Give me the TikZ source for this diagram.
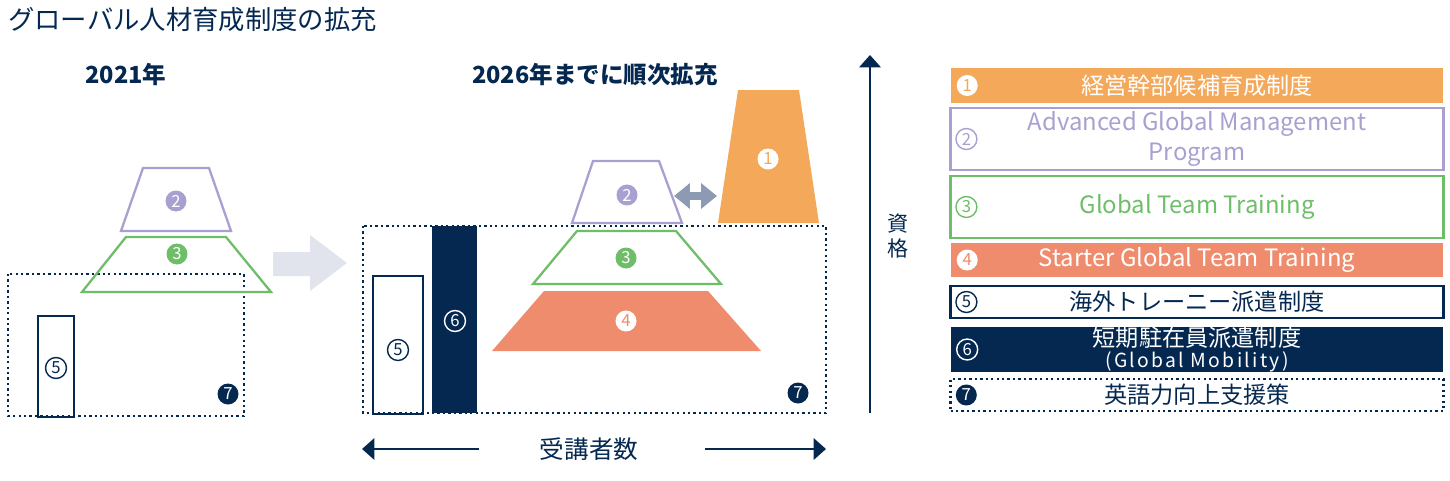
\documentclass[tikz,border=0pt]{standalone}
\usepackage{fontspec}
\setmainfont{Noto Sans CJK JP}
\usetikzlibrary{arrows.meta}
\definecolor{navy}{RGB}{4,40,80}
\definecolor{gold}{RGB}{244,169,90}
\definecolor{lilac}{RGB}{168,160,208}
\definecolor{leaf}{RGB}{110,190,105}
\definecolor{coral}{RGB}{239,140,110}
\definecolor{mist}{RGB}{225,228,236}
\definecolor{slate}{RGB}{140,154,180}
\begin{document}
\begin{tikzpicture}[x=0.02cm,y=-0.02cm,
  badge/.style={circle,inner sep=0pt,minimum size=0.42cm,font=\fontsize{9.5}{10}\selectfont},
  solidbadge/.style={badge,fill=#1,text=white},
  holebadge/.style={badge,fill=white,text=#1},
  ringbadge/.style={badge,draw=#1,line width=0.8pt,text=#1},
  dots/.style={draw=navy,line width=1.4pt,dash pattern=on 1.3pt off 1.8pt},
  row/.style={minimum width=9.86cm,inner sep=0pt,align=center},
  jp/.style={font=\fontsize{13.2}{15}\selectfont},
  en/.style={font=\fontsize{13.6}{17}\selectfont},
  axis/.style={navy,line width=1.6pt,-{Triangle[length=7pt,width=12pt]}}]
  \useasboundingbox (0,0) rectangle (1450,480);

  \node[anchor=west,text=navy,font=\fontsize{15}{18}\selectfont] (title) at (2,20) {グローバル人材育成制度の拡充};
  \node[text=navy,font=\bfseries\fontsize{13.4}{16}\selectfont] (y2021) at (126,75) {2021年};
  \node[text=navy,font=\bfseries\fontsize{13.4}{16}\selectfont] (y2026) at (595,75) {2026年までに順次拡充};

  % 2021
  \draw[dots] (8,274) rectangle (244,416);
  \draw[navy,line width=1.3pt] (38,316) rectangle (74,417);
  \draw[lilac,line width=1.3pt] (143,168) -- (209,168) -- (231,231) -- (121,231) -- cycle;
  \draw[leaf,line width=1.3pt] (126,237) -- (226,237) -- (271,292) -- (82,292) -- cycle;
  \node[solidbadge=lilac] (a2) at (176,201) {2};
  \node[solidbadge=leaf] (a3) at (177,254) {3};
  \node[ringbadge=navy] (a5) at (56,368) {5};
  \node[solidbadge=navy] (a7) at (228,394) {7};

  \fill[mist] (273,252) -- (310,252) -- (310,235) -- (347,263) -- (310,291) -- (310,276) -- (273,276) -- cycle;

  % 2026
  \draw[dots] (363,226) rectangle (826,413);
  \draw[navy,line width=1.3pt] (373,276) rectangle (423,414);
  \fill[navy] (432,226) rectangle (477,413);
  \draw[lilac,line width=1.3pt] (593,161) -- (659,161) -- (682,223) -- (572,223) -- cycle;
  \draw[leaf,line width=1.3pt] (577,231) -- (676,231) -- (721,284) -- (533,284) -- cycle;
  \fill[coral] (544,291) -- (708,291) -- (761,351) -- (492,351) -- cycle;
  \fill[gold] (738,90) -- (799,90) -- (819,223) -- (718,223) -- cycle;
  \coordinate (swapl) at (674,196);
  \coordinate (swapr) at (717,196);
  \draw[slate,line width=5pt,{Triangle[length=9pt,width=14pt]}-{Triangle[length=9pt,width=14pt]}] (swapl) -- (swapr);
  \node[holebadge=gold] (b1) at (768,159) {1};
  \node[solidbadge=lilac] (b2) at (627,195) {2};
  \node[solidbadge=leaf] (b3) at (626,258) {3};
  \node[holebadge=coral] (b4) at (626,321) {4};
  \node[ringbadge=navy] (b5) at (398,350) {5};
  \node[ringbadge=white] (b6) at (455,321) {6};
  \node[solidbadge=navy] (b7) at (798,393) {7};

  % axes
  \node[text=navy,font=\fontsize{14}{16}\selectfont] (count) at (589,449) {受講者数};
  \coordinate (cl0) at (479,449);
  \coordinate (cl1) at (362,449);
  \coordinate (cr0) at (705,449);
  \coordinate (cr1) at (826,449);
  \draw[axis] (cl0) -- (cl1);
  \draw[axis] (cr0) -- (cr1);
  \coordinate (q0) at (870,413);
  \coordinate (q1) at (870,55);
  \draw[axis] (q0) -- (q1);
  \node[text=navy,font=\fontsize{12}{14}\selectfont,align=center] (qual) at (898,236) {資\\格};

  % legend
  \node[row,fill=gold,minimum height=0.70cm,jp,text=white] (r1) at (1197,85.5) {経営幹部候補育成制度};
  \node[row,draw=lilac,line width=1.3pt,minimum height=1.24cm,en,text=lilac] (r2) at (1197,139) {Advanced Global Management\\Program};
  \node[row,draw=leaf,line width=1.3pt,minimum height=1.24cm,en,text=leaf] (r3) at (1197,207) {Global Team Training};
  \node[row,fill=coral,minimum height=0.68cm,en,text=white] (r4) at (1197,260) {Starter Global Team Training};
  \node[row,draw=navy,line width=1.3pt,minimum height=0.64cm,jp,text=navy] (r5) at (1197,302) {海外トレーニー派遣制度};
  \node[row,fill=navy,minimum height=0.90cm,font=\fontsize{13.2}{11.5}\selectfont,text=white] (r6) at (1197,349.5) {短期駐在員派遣制度\\{\fontsize{11}{11.5}\selectfont\addfontfeatures{LetterSpace=12}(Global Mobility)}};
  \node[row,dots,minimum height=0.64cm,jp,text=navy] (r7) at (1197,395) {英語力向上支援策};
  \node[holebadge=gold] (c1) at ([xshift=0.34cm]r1.west) {1};
  \node[ringbadge=lilac] (c2) at ([xshift=0.34cm]r2.west) {2};
  \node[ringbadge=leaf] (c3) at ([xshift=0.34cm]r3.west) {3};
  \node[holebadge=coral] (c4) at ([xshift=0.34cm]r4.west) {4};
  \node[ringbadge=navy] (c5) at ([xshift=0.34cm]r5.west) {5};
  \node[ringbadge=white] (c6) at ([xshift=0.34cm]r6.west) {6};
  \node[solidbadge=navy] (c7) at ([xshift=0.34cm]r7.west) {7};
\end{tikzpicture}
\end{document}
